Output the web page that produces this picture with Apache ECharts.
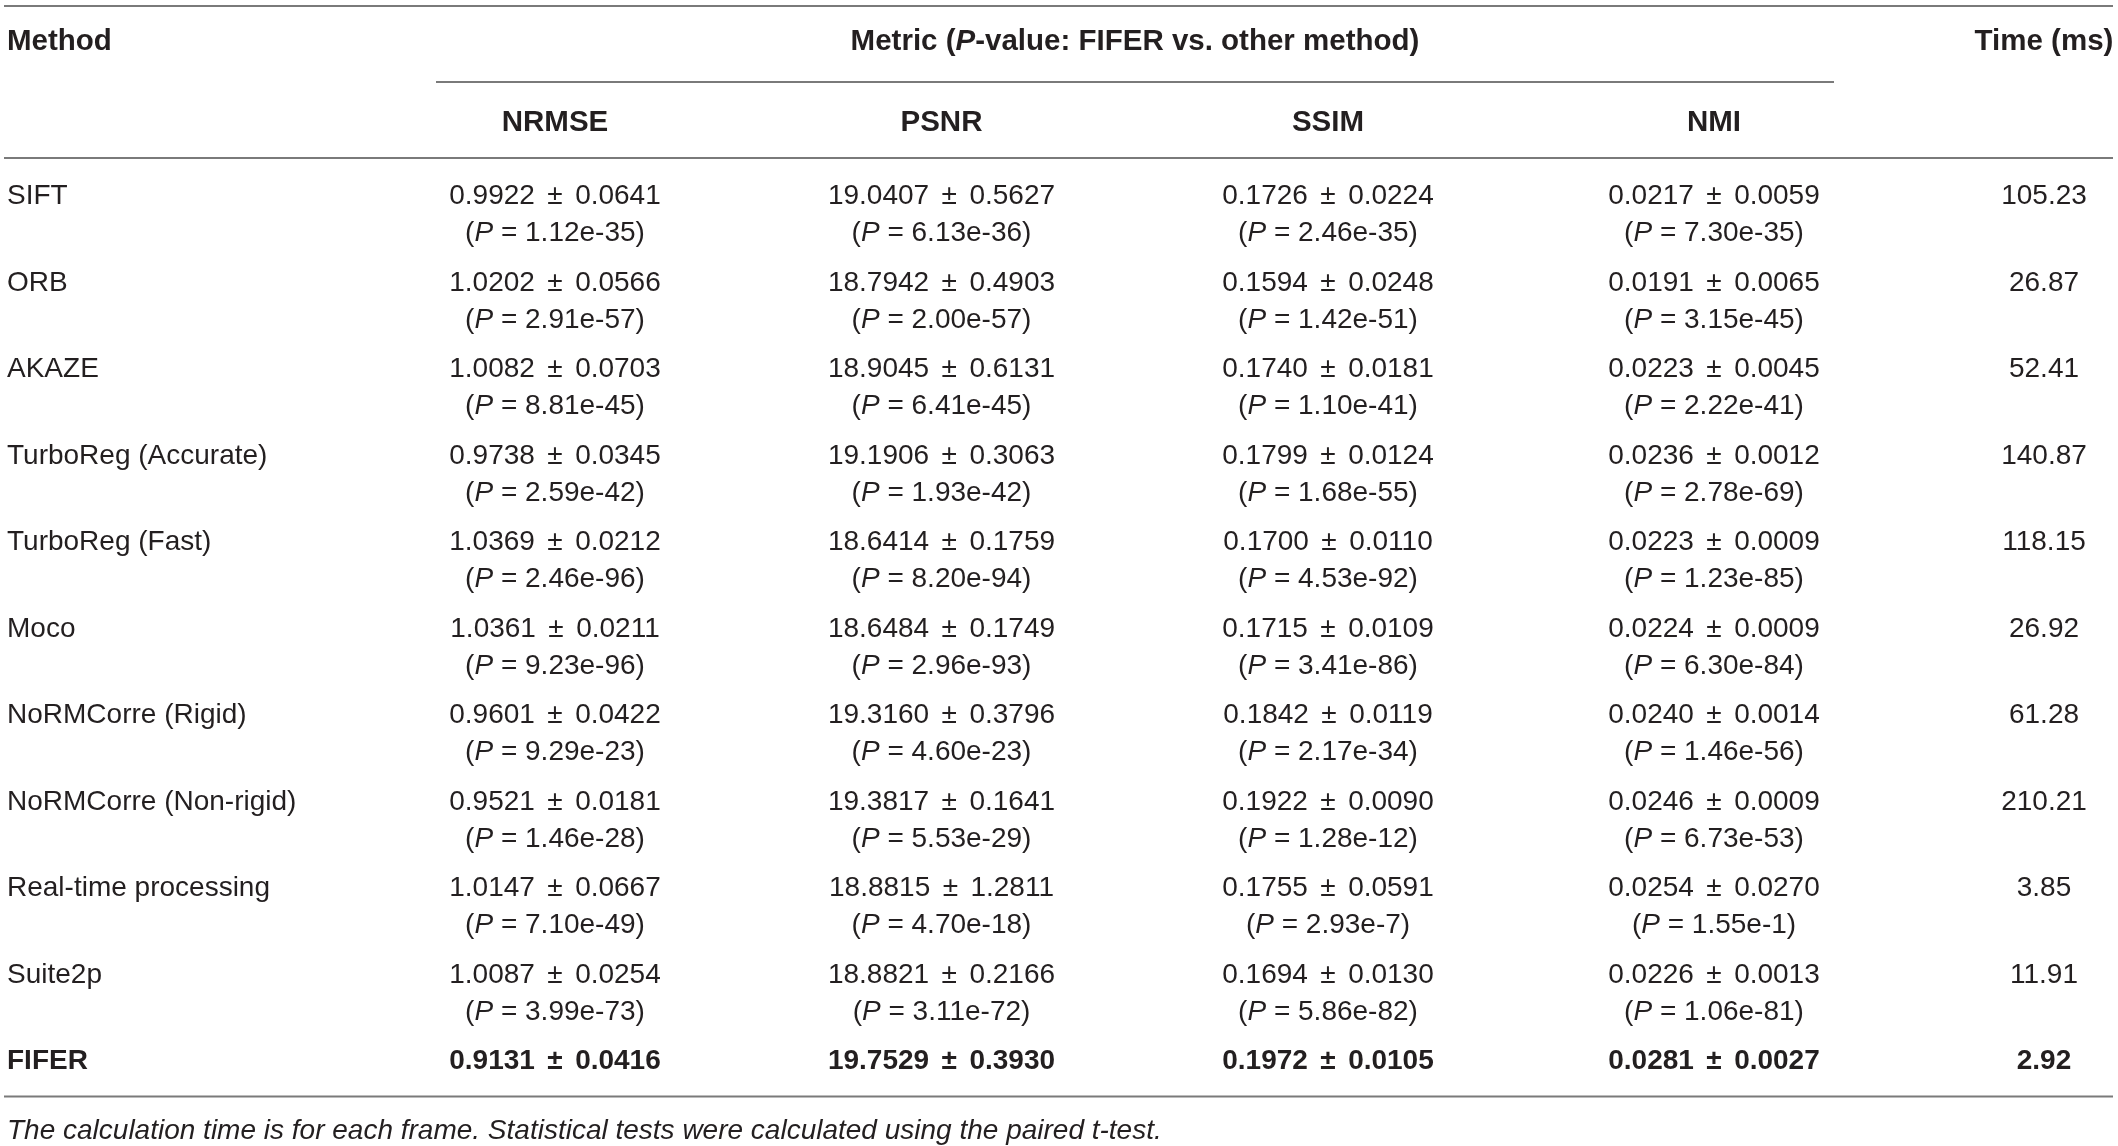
<!DOCTYPE html>
<html>
<head>
<meta charset="utf-8">
<script src="https://cdn.jsdelivr.net/npm/echarts@6/dist/echarts.min.js"></script>
<style>
html,body{margin:0;padding:0;background:#fff;}
#main{width:2118px;height:1146px;}
</style>
</head>
<body>
<div id="main"></div>
<script>
// ---- data ----
var methods = ['SIFT','ORB','AKAZE','TurboReg (Accurate)','TurboReg (Fast)','Moco','NoRMCorre (Rigid)','NoRMCorre (Non-rigid)','Real-time processing','Suite2p','FIFER'];
var metricNames = ['NRMSE','PSNR','SSIM','NMI'];
var nrmseMean = [0.9922,1.0202,1.0082,0.9738,1.0369,1.0361,0.9601,0.9521,1.0147,1.0087,0.9131];
var nrmseSd   = [0.0641,0.0566,0.0703,0.0345,0.0212,0.0211,0.0422,0.0181,0.0667,0.0254,0.0416];
var nrmseP    = ['1.12e-35','2.91e-57','8.81e-45','2.59e-42','2.46e-96','9.23e-96','9.29e-23','1.46e-28','7.10e-49','3.99e-73',null];
var psnrMean  = [19.0407,18.7942,18.9045,19.1906,18.6414,18.6484,19.3160,19.3817,18.8815,18.8821,19.7529];
var psnrSd    = [0.5627,0.4903,0.6131,0.3063,0.1759,0.1749,0.3796,0.1641,1.2811,0.2166,0.3930];
var psnrP     = ['6.13e-36','2.00e-57','6.41e-45','1.93e-42','8.20e-94','2.96e-93','4.60e-23','5.53e-29','4.70e-18','3.11e-72',null];
var ssimMean  = [0.1726,0.1594,0.1740,0.1799,0.1700,0.1715,0.1842,0.1922,0.1755,0.1694,0.1972];
var ssimSd    = [0.0224,0.0248,0.0181,0.0124,0.0110,0.0109,0.0119,0.0090,0.0591,0.0130,0.0105];
var ssimP     = ['2.46e-35','1.42e-51','1.10e-41','1.68e-55','4.53e-92','3.41e-86','2.17e-34','1.28e-12','2.93e-7','5.86e-82',null];
var nmiMean   = [0.0217,0.0191,0.0223,0.0236,0.0223,0.0224,0.0240,0.0246,0.0254,0.0226,0.0281];
var nmiSd     = [0.0059,0.0065,0.0045,0.0012,0.0009,0.0009,0.0014,0.0009,0.0270,0.0013,0.0027];
var nmiP      = ['7.30e-35','3.15e-45','2.22e-41','2.78e-69','1.23e-85','6.30e-84','1.46e-56','6.73e-53','1.55e-1','1.06e-81',null];
var timeMs    = [105.23,26.87,52.41,140.87,118.15,26.92,61.28,210.21,3.85,11.91,2.92];
var boldMethod = 'FIFER';
var footnote = 'The calculation time is for each frame. Statistical tests were calculated using the paired t-test.';

// ---- layout (not data) ----
var FONT = '"Liberation Sans", Arial, Helvetica, sans-serif';
var FS = 28;
var FSH = 29.5;
var TXT = '#231f20';
var RULE = '#7a7a7a';
var colMethodX = 7;
var colMetricX = [555, 941.5, 1328, 1714];
var colTimeX = 2044;
var lineGap = 18.5;
var PM = ' \u2006\u00b1\u2006 ';

var metrics = [
  {mean: nrmseMean, sd: nrmseSd, p: nrmseP},
  {mean: psnrMean, sd: psnrSd, p: psnrP},
  {mean: ssimMean, sd: ssimSd, p: ssimP},
  {mean: nmiMean, sd: nmiSd, p: nmiP}
];

var chart = echarts.init(document.getElementById('main'), null, {renderer: 'canvas'});

function txt(x, y, text, align, bold, italic, size) {
  return {
    type: 'text',
    style: {
      x: x, y: y, text: text, align: align, verticalAlign: 'middle',
      fontFamily: FONT, fontSize: size || FS, fontWeight: bold ? 'bold' : 'normal',
      fontStyle: italic ? 'italic' : 'normal', fill: TXT
    }
  };
}

function renderItem(params, api) {
  var i = api.value(0);
  var isBold = methods[i] === boldMethod;
  var w = isBold ? 'bold' : 'normal';
  var yc = api.coord([0, i])[1];
  var y1 = yc - lineGap, y2 = yc + lineGap;
  var children = [];
  children.push({type: 'text', style: {x: api.coord([colMethodX, i])[0], y: y1, text: methods[i], align: 'left', verticalAlign: 'middle', fontFamily: FONT, fontSize: FS, fontWeight: w, fill: TXT}});
  for (var c = 0; c < metrics.length; c++) {
    var m = metrics[c];
    var x = api.coord([colMetricX[c], i])[0];
    children.push({type: 'text', style: {x: x, y: y1, text: m.mean[i].toFixed(4) + PM + m.sd[i].toFixed(4), align: 'center', verticalAlign: 'middle', fontFamily: FONT, fontSize: FS, fontWeight: w, fill: TXT}});
    if (m.p[i]) {
      children.push({type: 'text', style: {x: x, y: y2, text: '({it|P} = ' + m.p[i] + ')', align: 'center', verticalAlign: 'middle', fontFamily: FONT, fontSize: FS, fontWeight: w, fill: TXT,
        rich: {it: {fontFamily: FONT, fontSize: FS, fontStyle: 'italic', fill: TXT}}}});
    }
  }
  children.push({type: 'text', style: {x: api.coord([colTimeX, i])[0], y: y1, text: timeMs[i].toFixed(2), align: 'center', verticalAlign: 'middle', fontFamily: FONT, fontSize: FS, fontWeight: w, fill: TXT}});
  return {type: 'group', children: children};
}

var rowIdx = methods.map(function (m, i) { return [i]; });

var graphics = [];
function rule(x1, x2, y) {
  return {type: 'line', shape: {x1: x1, y1: y, x2: x2, y2: y}, style: {stroke: RULE, lineWidth: 2}, silent: true};
}
graphics.push(rule(4, 2113, 6));
graphics.push(rule(436, 1834, 82));
graphics.push(rule(4, 2113, 158));
graphics.push(rule(4, 2113, 1096.5));
graphics.push(txt(colMethodX, 41.5, 'Method', 'left', true, false, FSH));
graphics.push({type: 'text', style: {x: (436 + 1834) / 2, y: 41.5, text: '{b|Metric (}{bi|P}{b|-value: FIFER vs. other method)}', align: 'center', verticalAlign: 'middle', fontFamily: FONT, fontSize: FSH, fontWeight: 'bold', fill: TXT,
  rich: {b: {fontFamily: FONT, fontSize: FSH, fontWeight: 'bold', fill: TXT}, bi: {fontFamily: FONT, fontSize: FSH, fontWeight: 'bold', fontStyle: 'italic', fill: TXT}}}});
graphics.push(txt(colTimeX, 41.5, 'Time (ms)', 'center', true, false, FSH));
for (var k = 0; k < metricNames.length; k++) {
  graphics.push(txt(colMetricX[k], 123, metricNames[k], 'center', true, false, FSH));
}
graphics.push(txt(colMethodX, 1131.5, footnote, 'left', false, true));

chart.setOption({
  backgroundColor: '#ffffff',
  animation: false,
  grid: {left: 0, right: 0, top: 171.6, bottom: 22.9},
  xAxis: {type: 'value', min: 0, max: 2118, show: false},
  yAxis: {type: 'category', data: methods, inverse: true, show: false},
  graphic: graphics,
  series: [{
    type: 'custom',
    renderItem: renderItem,
    data: rowIdx,
    encode: {y: 0},
    silent: true
  }]
});
</script>
</body>
</html>
